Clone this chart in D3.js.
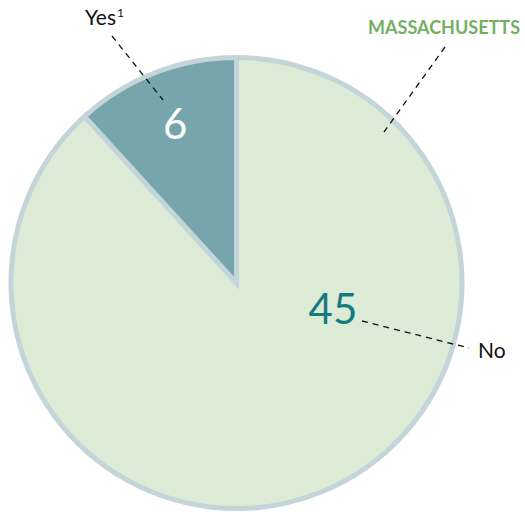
<!DOCTYPE html>
<html>
<head>
<meta charset="utf-8">
<script src="https://cdn.jsdelivr.net/npm/d3@7"></script>
<style>
  html, body { margin: 0; padding: 0; background: #fff; }
  svg { display: block; }
  text { font-family: "Lato", "Open Sans", sans-serif; }
</style>
</head>
<body>
<svg id="chart" width="525" height="512"></svg>
<script>
// Survey answers for the state
const categories = ["No", "Yes"];
const values = [45, 6];
const title = "MASSACHUSETTS";

const svg = d3.select("#chart");
const cx = 236.5, cy = 283, radius = 225.5;

const color = d3.scaleOrdinal()
  .domain(categories)
  .range(["#dcebd6", "#76a5ac"]);

const pie = d3.pie().sort(null).value(d => d.value);
const arcs = pie(categories.map((c, i) => ({ cat: c, value: values[i] })));
const arc = d3.arc().innerRadius(0).outerRadius(radius);

const g = svg.append("g").attr("transform", `translate(${cx},${cy})`);

g.selectAll("path.slice")
  .data(arcs)
  .join("path")
  .attr("class", "slice")
  .attr("d", arc)
  .attr("fill", d => color(d.data.cat))
  .attr("stroke", "#c4d5da")
  .attr("stroke-width", 5)
  .attr("stroke-linejoin", "miter");

// value labels inside the slices
const polar = (r, a) => [r * Math.sin(a), -r * Math.cos(a)];
const yesArc = arcs[1];
const yesMid = (yesArc.startAngle + yesArc.endAngle) / 2;
const [yx, yy] = polar(170, yesMid);
g.append("text")
  .attr("x", yx).attr("y", yy + 15)
  .attr("text-anchor", "middle")
  .attr("font-size", 42)
  .attr("fill", "#ffffff")
  .text(yesArc.data.value);

const noArc = arcs[0];
const [nx, ny] = polar(100, Math.PI * 0.585);
g.append("text")
  .attr("x", nx).attr("y", ny + 15)
  .attr("text-anchor", "middle")
  .attr("font-size", 42)
  .attr("fill", "#137a80")
  .text(noArc.data.value);

// leader lines
const dash = "6,5";
const leader = (x1, y1, x2, y2) => svg.append("line")
  .attr("x1", x1).attr("y1", y1).attr("x2", x2).attr("y2", y2)
  .attr("stroke", "#111").attr("stroke-width", 1.3)
  .attr("stroke-dasharray", dash);

leader(112, 36, 163, 100);
leader(445, 47, 384, 132);
leader(362, 321, 469, 348);

// category labels
const yesLabel = svg.append("text")
  .attr("x", 85).attr("y", 25)
  .attr("font-size", 21)
  .attr("fill", "#111");
yesLabel.append("tspan").text(categories[1]);
yesLabel.append("tspan").attr("font-size", 12).attr("dy", -8).attr("dx", 1).text("1");

svg.append("text")
  .attr("x", 478).attr("y", 358)
  .attr("font-size", 21)
  .attr("fill", "#111")
  .text(categories[0]);

svg.append("text")
  .attr("x", 520).attr("y", 34)
  .attr("text-anchor", "end")
  .attr("font-size", 18)
  .attr("font-weight", "bold")
  .attr("fill", "#72b162")
  .text(title);
</script>
</body>
</html>
